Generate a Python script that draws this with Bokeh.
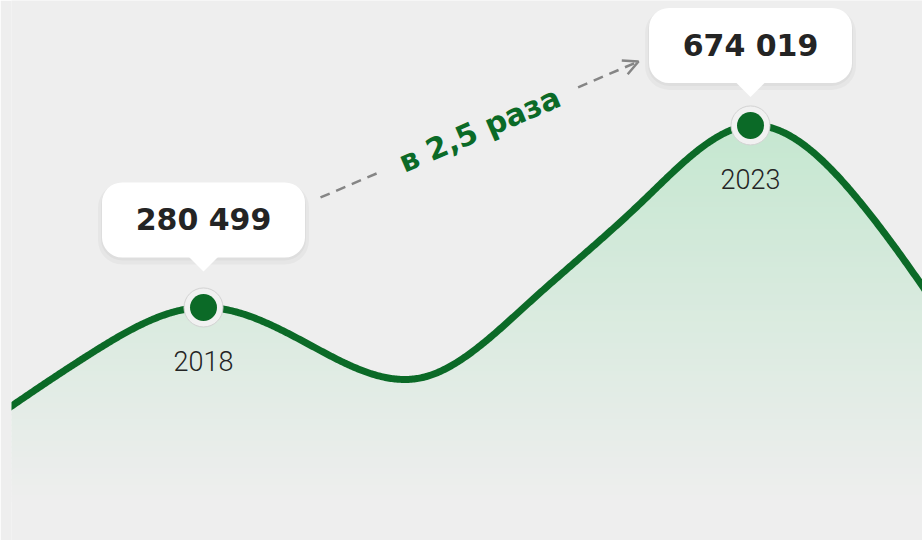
import numpy as np
from bokeh.plotting import figure
from bokeh.models import Range1d, Arrow, OpenHead
from bokeh.core.properties import value
from bokeh.embed import file_html
from bokeh.resources import INLINE

# ---------------- data ----------------
years = [2016, 2017, 2018, 2019, 2020, 2021, 2022, 2023, 2024, 2025]
values = [27500, 185300, 280499, 196000, 129000, 296000, 507000, 674019, 509000, 176600]
highlight_years = [2018, 2023]
highlight_values = [280499, 674019]
highlight_labels = ["280 499", "674 019"]
year_labels = ["2018", "2023"]
growth_label = "в 2,5 раза"

# ---------------- layout / style ----------------
W, H = 922, 540
LEFT = 11
FW, FH = W - LEFT, H
X0, X1 = 2016.245, 2024.572
Y0, Y1 = -223300, 944150
XPP = (X1 - X0) / FW      # years per screen px
YPP = (Y1 - Y0) / FH      # value per screen px

BG = "#EEEEEE"
GREEN = "#0B6A27"
GRAY = "#858585"
TEXT_DARK = "#242424"
FILL_TOP_RGB = (197, 231, 208)
BG_RGB = (238, 238, 238)
FILL_BOTTOM = -137000


def natural_spline(xs, ys, n=80):
    xs = np.asarray(xs, float)
    ys = np.asarray(ys, float)
    k = len(xs)
    h = np.diff(xs)
    A = np.zeros((k, k))
    r = np.zeros(k)
    A[0, 0] = 1
    A[-1, -1] = 1
    for i in range(1, k - 1):
        A[i, i - 1] = h[i - 1]
        A[i, i] = 2 * (h[i - 1] + h[i])
        A[i, i + 1] = h[i]
        r[i] = 6 * ((ys[i + 1] - ys[i]) / h[i] - (ys[i] - ys[i - 1]) / h[i - 1])
    M = np.linalg.solve(A, r)
    ox, oy = [], []
    for i in range(k - 1):
        t = np.linspace(xs[i], xs[i + 1], n, endpoint=(i == k - 2))
        a = xs[i + 1] - t
        b = t - xs[i]
        y = (M[i] * a**3 + M[i + 1] * b**3) / (6 * h[i]) \
            + (ys[i] / h[i] - M[i] * h[i] / 6) * a + (ys[i + 1] / h[i] - M[i + 1] * h[i] / 6) * b
        ox.append(t)
        oy.append(y)
    return np.concatenate(ox), np.concatenate(oy)


cx, cy = natural_spline(years, values)

p = figure(width=W, height=H, x_range=Range1d(X0, X1), y_range=Range1d(Y0, Y1),
           output_backend="svg", toolbar_location=None,
           x_axis_location=None, y_axis_location=None,
           min_border_left=LEFT, min_border_right=0, min_border_top=0, min_border_bottom=0)
p.grid.visible = False
p.outline_line_color = None
p.background_fill_color = BG
p.border_fill_color = BG

# ---------------- gradient fill under curve ----------------
top_val = max(values)
N = 70
edges = np.linspace(FILL_BOTTOM, top_val + 5 * YPP, N + 1)
ov = 1.5 * YPP
for k in range(N - 1, -1, -1):
    lo, hi = edges[k], edges[k + 1]
    f = ((lo + hi) / 2 - FILL_BOTTOM) / (top_val - FILL_BOTTOM)
    f = min(max(f, 0), 1)
    rgb = tuple(int(round(BG_RGB[j] + (FILL_TOP_RGB[j] - BG_RGB[j]) * f)) for j in range(3))
    col = "#%02x%02x%02x" % rgb
    y2 = np.minimum(cy, hi)
    y1 = np.minimum(lo - ov, y2)
    p.varea(x=cx, y1=y1, y2=y2, fill_color=col)

# ---------------- curve ----------------
p.line(cx, cy, line_color=GREEN, line_width=7, line_cap="round", line_join="round")

# ---------------- markers ----------------
p.scatter(highlight_years, highlight_values, size=39, fill_color="#F1F1F1",
          line_color="#D2D2D2", line_width=1)
p.scatter(highlight_years, highlight_values, size=27, fill_color=GREEN, line_color=None)

# ---------------- year labels ----------------
p.text(highlight_years, highlight_values, text=year_labels, y_offset=54,
       text_align="center", text_baseline="middle",
       text_font=value("Roboto Light, Roboto"), text_font_size="27px", text_color=TEXT_DARK)

# ---------------- growth arrow ----------------
sx, sy = highlight_years[0] + 117 * XPP, highlight_values[0] + 110 * YPP
ex, ey = highlight_years[1] - 112 * XPP, highlight_values[1] + 64 * YPP
t1, t2 = 0.195, 0.81
p.line([sx, sx + t1 * (ex - sx)], [sy, sy + t1 * (ey - sy)], line_color=GRAY,
       line_width=2.5, line_dash="10 7")
p.add_layout(Arrow(x_start=sx + t2 * (ex - sx), y_start=sy + t2 * (ey - sy), x_end=ex, y_end=ey,
                   line_color=GRAY, line_width=2.5, line_dash="10 7",
                   end=OpenHead(size=15, line_color=GRAY, line_width=2.5)))
ang = np.arctan2(136, 318)
tm = 0.5
p.text([sx + tm * (ex - sx)], [sy + tm * (ey - sy)], text=[growth_label], angle=ang,
       text_align="center", text_baseline="middle",
       text_font=value("DejaVu Sans"), text_font_style="bold", text_font_size="30px",
       text_color=GREEN)

# ---------------- callouts ----------------
BOX_W, BOX_H = 203, 75
box_off = [87.5, 80.0]   # px above the point (box centre)
bx = highlight_years
by = [v + o * YPP for v, o in zip(highlight_values, box_off)]
# soft shadow
p.rect(bx, [y - 4 * YPP for y in by], width=BOX_W + 8, height=BOX_H + 6,
       width_units="screen", height_units="screen", border_radius=24,
       fill_color="#000000", fill_alpha=0.03, line_color=None)
p.rect(bx, [y - 2 * YPP for y in by], width=BOX_W + 2, height=BOX_H + 2,
       width_units="screen", height_units="screen", border_radius=21,
       fill_color="#000000", fill_alpha=0.03, line_color=None)
p.rect(bx, by, width=BOX_W, height=BOX_H, width_units="screen", height_units="screen",
       border_radius=20, fill_color="#FFFFFF", line_color=None)
tri_x, tri_y = [], []
for x, y in zip(bx, by):
    base = y - (BOX_H / 2 - 1) * YPP
    tip = y - (BOX_H / 2 + 14) * YPP
    tri_x.append([x - 15 * XPP, x + 15 * XPP, x])
    tri_y.append([base, base, tip])
p.patches(tri_x, tri_y, fill_color="#FFFFFF", line_color=None)
p.text(bx, by, text=highlight_labels, text_align="center", text_baseline="middle",
       text_font=value("DejaVu Sans"), text_font_style="bold", text_font_size="30px",
       text_color=TEXT_DARK)

open("out.html", "w").write(file_html(p, INLINE))
